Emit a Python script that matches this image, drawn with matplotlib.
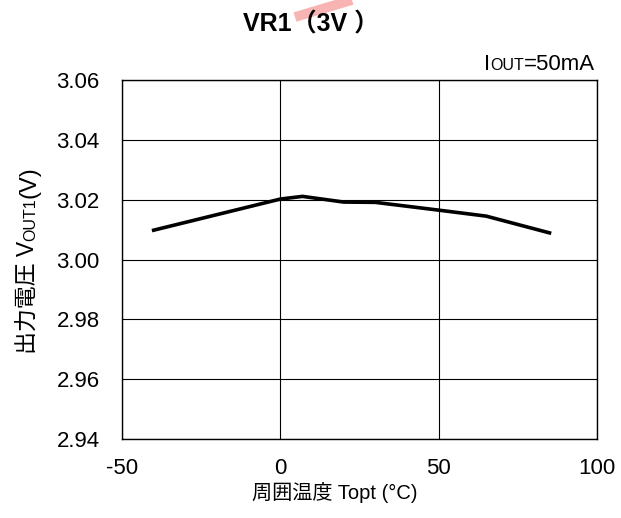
import matplotlib
matplotlib.use("Agg")
import matplotlib.pyplot as plt
from matplotlib.lines import Line2D

plt.rcParams['font.family'] = ['Liberation Sans', 'Noto Sans CJK JP', 'DejaVu Sans']

# Data
temps = [-40, 0, 7, 20, 30, 50, 65, 85]
vout = [3.0098, 3.0202, 3.0211, 3.0192, 3.0191, 3.0165, 3.0145, 3.0089]
xticks = [-50, 0, 50, 100]
yticks = [2.94, 2.96, 2.98, 3.00, 3.02, 3.04, 3.06]

W, H = 621, 518
fig = plt.figure(figsize=(W / 100, H / 100), dpi=100)
ax = fig.add_axes([122 / W, 1 - 439 / H, 475 / W, 359 / H])

ax.plot(temps, vout, color='black', lw=2.6, solid_joinstyle='round')
ax.set_xlim(-50, 100)
ax.set_ylim(2.94, 3.06)
ax.set_xticks(xticks)
ax.set_yticks(yticks)
ax.set_xticklabels([str(t) for t in xticks])
ax.set_yticklabels([f"{v:.2f}" for v in yticks])
ax.tick_params(axis='y', length=0, labelsize=16, pad=16)
ax.tick_params(axis='x', length=0, labelsize=16, pad=14)
ax.grid(True, color='black', lw=0.8)
for s in ax.spines.values():
    s.set_linewidth(1.0)
    s.set_color('black')

fig.canvas.draw()
renderer = fig.canvas.get_renderer()


def place_pieces(pieces, x0, y0, rotation=0, center=False):
    """pieces: list of (text, size). x0,y0 in pixels (baseline start)."""
    arts = []
    for txt, size in pieces:
        t = fig.text(0, 0, txt, fontsize=size, rotation=rotation,
                     rotation_mode='anchor', ha='left', va='baseline')
        arts.append(t)
    lengths = []
    for t in arts:
        bb = t.get_window_extent(renderer)
        lengths.append(bb.height if rotation == 90 else bb.width)
    total = sum(lengths)
    pos = -total / 2 if center else 0
    for t, L in zip(arts, lengths):
        if rotation == 90:
            t.set_position((x0 / W, (y0 + pos) / H))
        else:
            t.set_position(((x0 + pos) / W, y0 / H))
        pos += L
    return arts


# y label (rotated)
place_pieces([('出力電圧 V', 16.5), ('OUT1', 11.5), ('(V)', 17)],
             35, H - 260, rotation=90, center=True)

# x label
place_pieces([('周囲温度 Topt (°C)', 14.5)], 335, H - 499, center=True)

# IOUT label (right aligned near 594)
arts = place_pieces([('I', 16), ('OUT', 11.5), ('=50mA', 16)], 0, H - 70)
total = sum(a.get_window_extent(renderer).width for a in arts)
shift = 595 - total
for a in arts:
    x, y = a.get_position()
    a.set_position((x + shift / W, y))

fig.text(311 / W, 1 - 25 / H, 'VR1（3V ）', fontsize=18, fontweight='bold',
         ha='center', va='center')

# pink watermark fragment
fig.add_artist(Line2D([295 / W, 352 / W], [1 - 17 / H, 1 - 0 / H], transform=fig.transFigure,
                      color='#f7a0a0', lw=7, alpha=0.8, solid_capstyle='butt'))

fig.savefig('out.png', dpi=100)
